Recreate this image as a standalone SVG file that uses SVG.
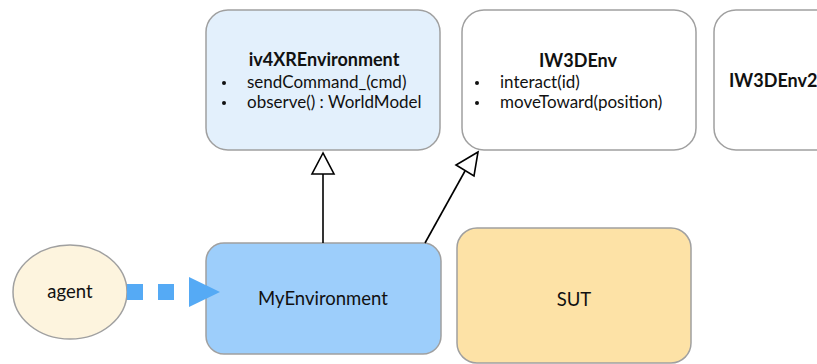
<svg xmlns="http://www.w3.org/2000/svg" width="817" height="364" viewBox="0 0 817 364">
<defs>
<style>
.box{stroke:#a0a0a0;stroke-width:1.5}
.t{font-family:Lato,"Open Sans",sans-serif;font-size:17px;fill:#111}
.b{font-weight:bold;font-size:18px}
.l{font-size:18.5px}
.c{text-anchor:middle}
.ln{stroke:#000;stroke-width:1.6;fill:none}
.dot{fill:#111}
</style>
</defs>
<rect width="817" height="364" fill="#fff"/>
<g id="iv4XREnvironment">
<rect class="box" x="206" y="10" width="234" height="140" rx="22" fill="#e3f0fc"/>
<text class="t b c" x="324" y="66">iv4XREnvironment</text>
<circle class="dot" cx="224" cy="83" r="2"/><text class="t" x="247" y="88">sendCommand_(cmd)</text>
<circle class="dot" cx="224" cy="103" r="2"/><text class="t" x="247" y="108">observe() : WorldModel</text>
</g>
<g id="IW3DEnv">
<rect class="box" x="462" y="10" width="234" height="140" rx="22" fill="#fff"/>
<text class="t b c" x="578" y="67">IW3DEnv</text>
<circle class="dot" cx="477" cy="83" r="2"/><text class="t" x="500" y="88">interact(id)</text>
<circle class="dot" cx="477" cy="103" r="2"/><text class="t" x="500" y="108">moveToward(position)</text>
</g>
<g id="IW3DEnv2">
<rect class="box" x="714" y="10" width="140" height="140" rx="22" fill="#fff"/>
<text class="t b" x="729" y="87">IW3DEnv2</text>
</g>
<g id="agent">
<ellipse class="box" cx="70" cy="292" rx="57" ry="47" fill="#fdf4de"/>
<text class="t l c" x="70" y="298">agent</text>
</g>
<g id="MyEnvironment">
<rect class="box" x="206" y="243" width="235" height="111" rx="18" fill="#9dcefb"/>
<text class="t l c" x="323" y="305">MyEnvironment</text>
</g>
<g id="SUT">
<rect class="box" x="457" y="228" width="234" height="135" rx="20" fill="#fde2a6"/>
<text class="t l c" x="574" y="306">SUT</text>
</g>
<g id="connectors">
<line x1="127" y1="292" x2="190" y2="292" stroke="#55aaf5" stroke-width="16" stroke-dasharray="16 15"/>
<polygon points="189,277 220,292 189,307" fill="#55aaf5"/>
<line class="ln" x1="323" y1="243" x2="323" y2="174"/>
<polygon class="ln" points="323,153 312,174 334,174" fill="#fff"/>
<line class="ln" x1="425" y1="243" x2="465" y2="171"/>
<polygon class="ln" points="478,152 456,165 474,176" fill="#fff"/>
</g>
</svg>
